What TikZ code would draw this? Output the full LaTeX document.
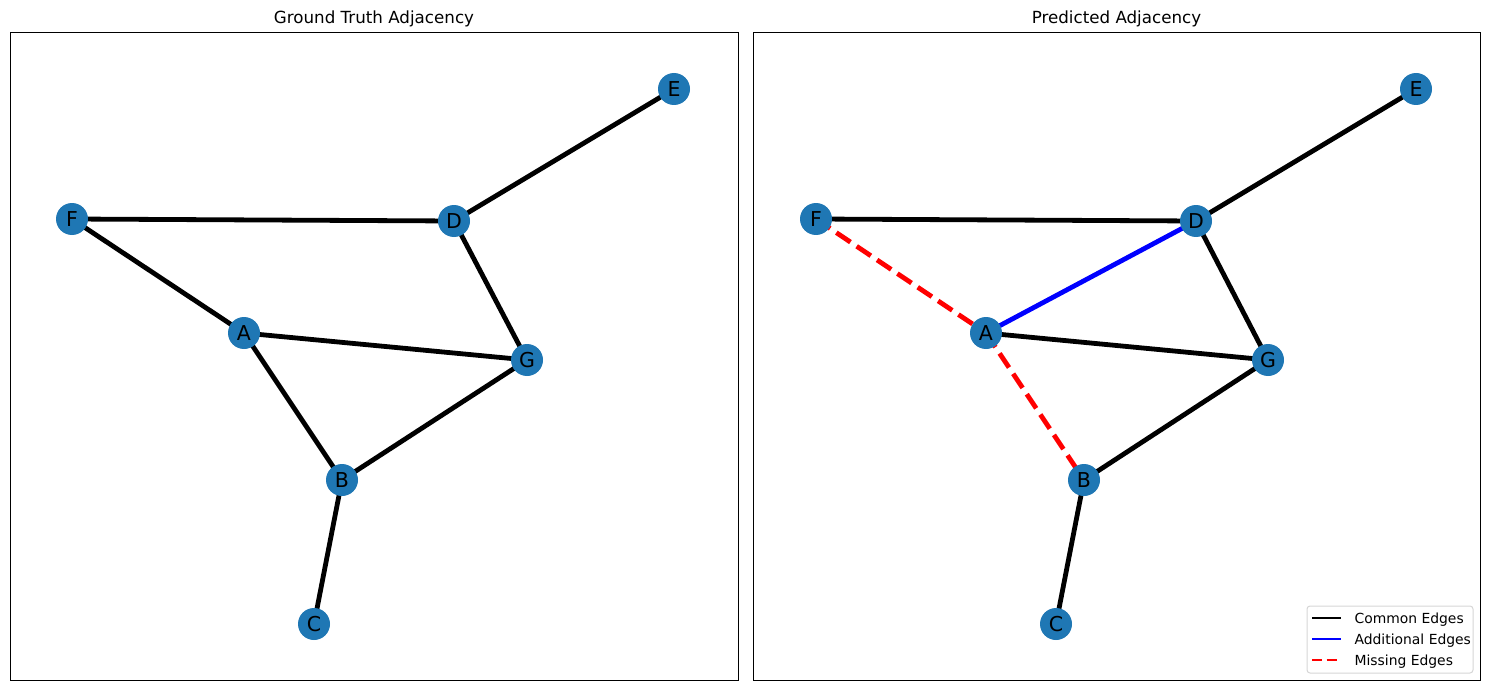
\documentclass[tikz,border=0pt]{standalone}
\usepackage{fontspec}
\setmainfont{DejaVu Sans}
\usetikzlibrary{backgrounds}
\definecolor{nodeblue}{HTML}{1F77B4}
\definecolor{legframe}{HTML}{D6D6D6}
\tikzset{
  vertex/.style={circle, fill=nodeblue, minimum size=32pt, inner sep=0pt, font=\fontsize{20.5}{21}\selectfont},
  edgecommon/.style={line width=4.8pt, black},
  edgeadd/.style={line width=4.8pt, blue},
  edgemiss/.style={line width=4.8pt, red, dash pattern=on 17pt off 7.5pt},
  axframe/.style={line width=0.85pt, black},
  titletext/.style={font=\fontsize{16.7}{20}\selectfont, anchor=base},
  legtext/.style={font=\fontsize{13.9}{16}\selectfont, anchor=base west},
}
\begin{document}
\begin{tikzpicture}[x=1pt,y=-1pt]
\useasboundingbox (0,0) rectangle (1489,690);
% frames
\draw[axframe] (10.5,32) rectangle (738,680);
\draw[axframe] (753,32) rectangle (1480,680);
\node[titletext] (t1) at (374,24) {Ground Truth Adjacency};
\node[titletext] (t2) at (1116.5,24) {Predicted Adjacency};
% left graph nodes
\node[vertex] (lF) at (72,219) {F};
\node[vertex] (lD) at (454,221) {D};
\node[vertex] (lE) at (674,89) {E};
\node[vertex] (lA) at (244,333) {A};
\node[vertex] (lG) at (527,360) {G};
\node[vertex] (lB) at (342,480) {B};
\node[vertex] (lC) at (314,624) {C};
% right graph nodes
\node[vertex] (rF) at (816,219) {F};
\node[vertex] (rD) at (1196,221) {D};
\node[vertex] (rE) at (1416,89) {E};
\node[vertex] (rA) at (986,333) {A};
\node[vertex] (rG) at (1268,360) {G};
\node[vertex] (rB) at (1084,480) {B};
\node[vertex] (rC) at (1056,624) {C};
\begin{pgfonlayer}{background}
\draw[edgecommon] (lF.center) -- (lD.center);
\draw[edgecommon] (lF.center) -- (lA.center);
\draw[edgecommon] (lD.center) -- (lE.center);
\draw[edgecommon] (lD.center) -- (lG.center);
\draw[edgecommon] (lA.center) -- (lG.center);
\draw[edgecommon] (lA.center) -- (lB.center);
\draw[edgecommon] (lB.center) -- (lG.center);
\draw[edgecommon] (lB.center) -- (lC.center);
%
\draw[edgecommon] (rF.center) -- (rD.center);
\draw[edgecommon] (rD.center) -- (rE.center);
\draw[edgecommon] (rD.center) -- (rG.center);
\draw[edgecommon] (rA.center) -- (rG.center);
\draw[edgecommon] (rB.center) -- (rG.center);
\draw[edgecommon] (rB.center) -- (rC.center);
\draw[edgeadd] (rA.center) -- (rD.center);
\draw[edgemiss] (rF.center) -- (rA.center);
\draw[edgemiss] (rA.center) -- (rB.center);
\end{pgfonlayer}
% legend
\draw[legframe, fill=white, line width=1pt, rounded corners=3pt] (1307,606) rectangle (1473,673);
\draw[line width=2.8pt, black] (1312,618) -- (1341,618);
\draw[line width=2.8pt, blue] (1312,639) -- (1341,639);
\draw[line width=2.8pt, red, dash pattern=on 10.3pt off 4.4pt] (1312,660) -- (1341,660);
\node[legtext] (l1) at (1351,623) {Common Edges};
\node[legtext] (l2) at (1351,644) {Additional Edges};
\node[legtext] (l3) at (1351,665) {Missing Edges};
\end{tikzpicture}
\end{document}
